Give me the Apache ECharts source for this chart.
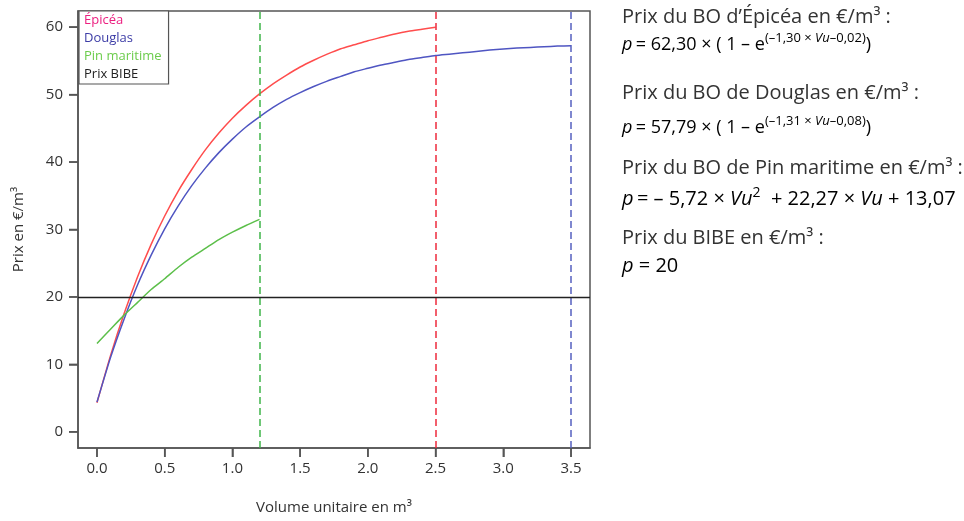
<!DOCTYPE html>
<html>
<head>
<meta charset="utf-8">
<script src="https://cdn.jsdelivr.net/npm/echarts@6/dist/echarts.min.js"></script>
<style>
html,body{margin:0;padding:0;background:#fff;}
#chart{width:964px;height:521px;}
</style>
</head>
<body>
<div id="chart"></div>
<script>
// ---- data ----
const volume = [0.0,0.1,0.2,0.3,0.4,0.5,0.6,0.7,0.8,0.9,1.0,1.1,1.2,1.3,1.4,1.5,1.6,1.7,1.8,1.9,2.0,2.1,2.2,2.3,2.4,2.5,2.6,2.7,2.8,2.9,3.0,3.1,3.2,3.3,3.4,3.5];
const epicea = [4.3,11.3,17.5,23.0,27.8,32.0,35.7,38.9,41.8,44.3,46.5,48.4,50.1,51.6,52.9,54.1,55.1,56.0,56.8,57.4,58.0,58.5,59.0,59.4,59.7,60.0];
const douglas = [4.4,11.0,16.7,21.8,26.2,30.1,33.5,36.5,39.1,41.4,43.4,45.2,46.7,48.1,49.3,50.3,51.2,52.0,52.7,53.4,53.9,54.4,54.8,55.2,55.5,55.8,56.0,56.2,56.4,56.6,56.75,56.9,57.0,57.1,57.2,57.25];
const pinMaritime = [13.1,15.2,17.3,19.2,21.1,22.7,24.4,25.9,27.2,28.5,29.6,30.6,31.5];
const prixBIBE = 20;
const limitPin = 1.2, limitEpicea = 2.5, limitDouglas = 3.5;
const xTicks = [0,0.5,1,1.5,2,2.5,3,3.5];
const yTicks = [0,10,20,30,40,50,60];
const seriesNames = ['Épicéa','Douglas','Pin maritime','Prix BIBE'];

const X_MIN = -0.14, X_MAX = 3.64, Y_MIN = -2.4, Y_MAX = 62.4;
const pair = arr => arr.map((v,i)=>[volume[i], v]);
const FONT = '"Open Sans", "DejaVu Sans", sans-serif';
const AXC = '#555';

const chart = echarts.init(document.getElementById('chart'));

const vline = (x, color) => ({
  silent:true, symbol:['none','none'], label:{show:false},
  lineStyle:{color:color, type:[7,4], width:1.5},
  data:[{xAxis:x}]
});

const TXT = '#333';
const base = {fontSize:18, fontFamily:FONT, color:TXT, lineHeight:30, verticalAlign:'bottom'};
const it = Object.assign({}, base, {fontStyle:'italic'});
const sup = {fontSize:13, fontFamily:FONT, color:TXT, lineHeight:30, verticalAlign:'middle'};
const supi = Object.assign({}, sup, {fontStyle:'italic'});
const big = {fontSize:20, fontFamily:FONT, color:TXT, lineHeight:32, verticalAlign:'bottom'};
const bigi = Object.assign({}, big, {fontStyle:'italic'});
const bigsup = {fontSize:14, fontFamily:FONT, color:TXT, lineHeight:32, verticalAlign:'middle'};

const title = (txt, y) => ({type:'text', left:622, top:y, style:{text:txt, font:'20px '+FONT, fill:TXT}});

const textGraphics = [
  title('Prix du BO d’Épicéa en €/m³ :', 7),
  {type:'text', left:622, top:32, style:{
    text:'{i|p} {b|= 62,30 × ( 1 – e}{s|(–1,30 × }{si|Vu}{s|–0,02)}{b|)}',
    rich:{b:base, i:it, s:sup, si:supi}}},
  title('Prix du BO de Douglas en €/m³ :', 83),
  {type:'text', left:622, top:115, style:{
    text:'{i|p} {b|= 57,79 × ( 1 – e}{s|(–1,31 × }{si|Vu}{s|–0,08)}{b|)}',
    rich:{b:base, i:it, s:sup, si:supi}}},
  title('Prix du BO de Pin maritime en €/m³ :', 158),
  {type:'text', left:622, top:186, style:{
    text:'{i|p} {b|= – 5,72 × }{i|Vu}{s|2}{b|  + 22,27 × }{i|Vu}{b| + 13,07}',
    rich:{b:big, i:bigi, s:bigsup}}},
  title('Prix du BIBE en €/m³ :', 228),
  {type:'text', left:622, top:256, style:{
    text:'{i|p}{b| = 20}',
    rich:{b:big, i:bigi}}}
];

const option = {
  animation:false,
  backgroundColor:'#fff',
  grid:{left:78, right:374, top:11, bottom:73, show:true, borderColor:AXC, borderWidth:1.5},
  legend:{
    orient:'vertical', left:79, top:11, selectedMode:false,
    icon:'rect', itemWidth:0, itemHeight:0, itemGap:3,
    padding:[2,7,2,0], backgroundColor:'#fff', borderColor:AXC, borderWidth:1.2,
    textStyle:{fontSize:13, lineHeight:15, fontFamily:FONT},
    data:[
      {name:seriesNames[0], textStyle:{color:'#ec1f80'}},
      {name:seriesNames[1], textStyle:{color:'#3c3ca6'}},
      {name:seriesNames[2], textStyle:{color:'#6ccc4c'}},
      {name:seriesNames[3], textStyle:{color:'#222'}}
    ]
  },
  xAxis:{
    type:'value', min:X_MIN, max:X_MAX,
    name:'Volume unitaire en m³', nameLocation:'middle', nameGap:52,
    nameTextStyle:{fontSize:15, color:TXT, fontFamily:FONT},
    axisLine:{show:true, onZero:false, lineStyle:{color:AXC, width:1.5}},
    axisTick:{show:true, length:9, customValues:xTicks.slice(), lineStyle:{color:AXC, width:1.5}},
    axisLabel:{customValues:xTicks.slice(), margin:13, fontSize:15, color:TXT, fontFamily:FONT, formatter:v=>Number(v).toFixed(1)},
    splitLine:{show:false}
  },
  yAxis:{
    type:'value', min:Y_MIN, max:Y_MAX,
    name:'Prix en €/m³', nameLocation:'middle', nameGap:52, nameRotate:90,
    nameTextStyle:{fontSize:15, color:TXT, fontFamily:FONT},
    axisLine:{show:true, onZero:false, lineStyle:{color:AXC, width:1.5}},
    axisTick:{show:true, length:9, customValues:yTicks.slice(), lineStyle:{color:AXC, width:1.5}},
    axisLabel:{customValues:yTicks.slice(), margin:15, fontSize:15, color:TXT, fontFamily:FONT},
    splitLine:{show:false}
  },
  series:[
    {name:seriesNames[0], type:'line', data:pair(epicea), showSymbol:false, smooth:0.2,
     lineStyle:{color:'#ff4d4d', width:1.5}, itemStyle:{color:'#ff4d4d'},
     markLine:vline(limitEpicea,'#ee2a3c')},
    {name:seriesNames[1], type:'line', data:pair(douglas), showSymbol:false, smooth:0.2,
     lineStyle:{color:'#4f55c2', width:1.5}, itemStyle:{color:'#4f55c2'},
     markLine:vline(limitDouglas,'#5560c0')},
    {name:seriesNames[2], type:'line', data:pair(pinMaritime), showSymbol:false, smooth:0.2,
     lineStyle:{color:'#5cbf4a', width:1.5}, itemStyle:{color:'#5cbf4a'},
     markLine:vline(limitPin,'#3fb54a')},
    {name:seriesNames[3], type:'line', data:[], showSymbol:false,
     lineStyle:{color:'#222', width:1.3}, itemStyle:{color:'#222'},
     markLine:{silent:true, symbol:['none','none'], label:{show:false},
       lineStyle:{color:'#222', type:'solid', width:1.3}, data:[{yAxis:prixBIBE}]}}
  ],
  graphic:textGraphics
};
chart.setOption(option);

// tick marks positioned through the chart's own scales, on a top layer
const tickGraphics = [];
xTicks.forEach(v => {
  const p = chart.convertToPixel({gridIndex:0}, [v, Y_MIN]);
  tickGraphics.push({type:'line', silent:true, z:100, zlevel:1,
    shape:{x1:p[0], y1:p[1], x2:p[0], y2:p[1]+9}, style:{stroke:AXC, lineWidth:1.5}});
});
yTicks.forEach(v => {
  const p = chart.convertToPixel({gridIndex:0}, [X_MIN, v]);
  tickGraphics.push({type:'line', silent:true, z:100, zlevel:1,
    shape:{x1:p[0], y1:p[1], x2:p[0]-9, y2:p[1]}, style:{stroke:AXC, lineWidth:1.5}});
});
chart.setOption({graphic: textGraphics.concat(tickGraphics)});
</script>
</body>
</html>
